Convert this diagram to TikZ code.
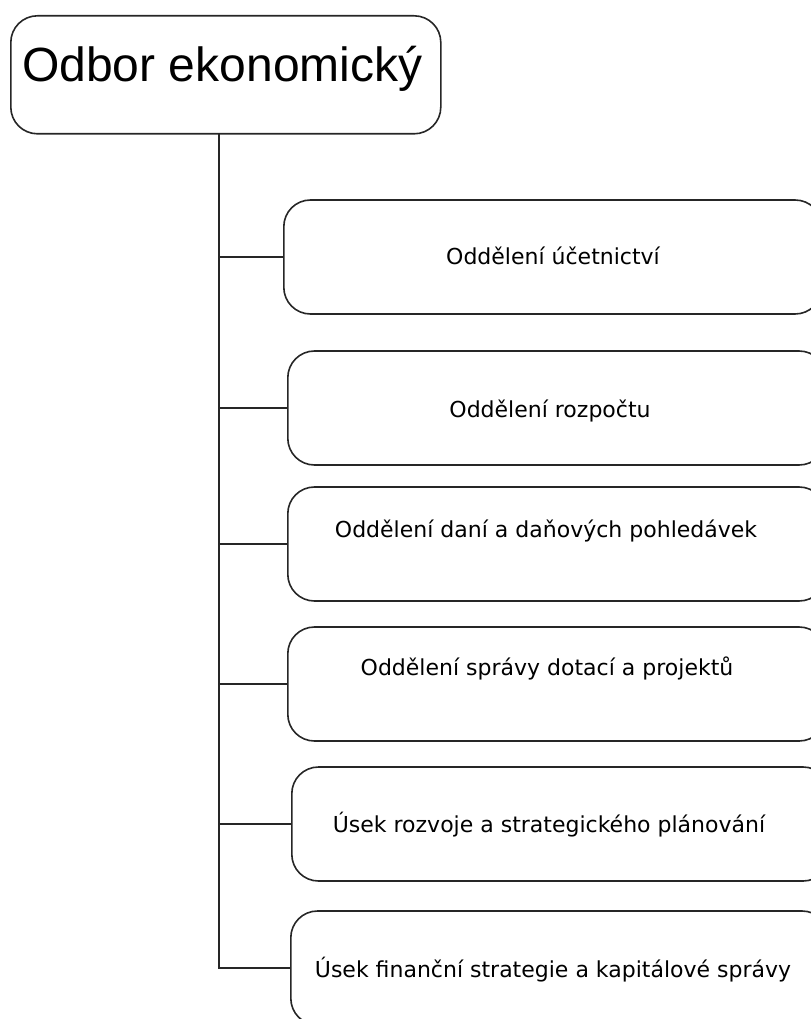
\documentclass[tikz,border=0pt]{standalone}
\usepackage{fontspec}
\setmainfont{DejaVu Sans}
\newfontfamily\headfont{Liberation Sans}
\usepackage{tikz}

\tikzset{
  unitbox/.style={draw=black!85, line width=1.2pt, rounded corners=20pt, minimum width=403.5pt,
    minimum height=85.5pt, anchor=west, inner sep=0pt},
  unittext/.style={anchor=base, inner sep=0pt, font=\fontsize{16.5}{20}\selectfont},
  link/.style={draw=black!85, line width=1.2pt},
}

\begin{document}
\begin{tikzpicture}[x=0.75pt,y=0.75pt,yscale=-1,xscale=1]
\useasboundingbox (0,0) rectangle (810,1019);

%Shape: Rounded Rect [head]
\node[draw=black!85, line width=1.2pt, rounded corners=20pt, minimum width=322.5pt, minimum height=88.5pt,
  anchor=north west, inner sep=0pt] (odbor) at (10,15) {};
% Text Node
\node[anchor=base west, inner sep=0pt, font=\headfont\fontsize{36}{43}\selectfont] (odbortext) at (22,82) {Odbor ekonomický};

%Shape: Rounded Rect [units]
\node[unitbox] (ucto) at (283,257) {};
\node[unitbox] (rozpocet) at (287,408) {};
\node[unitbox] (dane) at (287,544) {};
\node[unitbox] (dotace) at (287,684) {};
\node[unitbox] (rozvoj) at (291,824) {};
\node[unitbox] (finance) at (290,968) {};

% Text Node
\node[unittext] (uctotext) at (553,265) {Oddělení účetnictví};
% Text Node
\node[unittext] (rozpocettext) at (550,417) {Oddělení rozpočtu};
% Text Node
\node[unittext] (danetext) at (546,537) {Oddělení daní a daňových pohledávek};
% Text Node
\node[unittext] (dotacetext) at (547,675) {Oddělení správy dotací a projektů};
% Text Node
\node[unittext] (rozvojtext) at (549,832) {Úsek rozvoje a strategického plánování};
% Text Node
\node[unittext] (financetext) at (553,977) {Úsek finanční strategie a kapitálové správy};

%Straight Lines [trunk and branches]
\coordinate (trunktop) at (219,133);
\draw[link] (trunktop) |- (finance.west);
\foreach \u in {ucto,rozpocet,dane,dotace,rozvoj}
  \draw[link] (\u.west -| trunktop) -- (\u.west);

\end{tikzpicture}
\end{document}
